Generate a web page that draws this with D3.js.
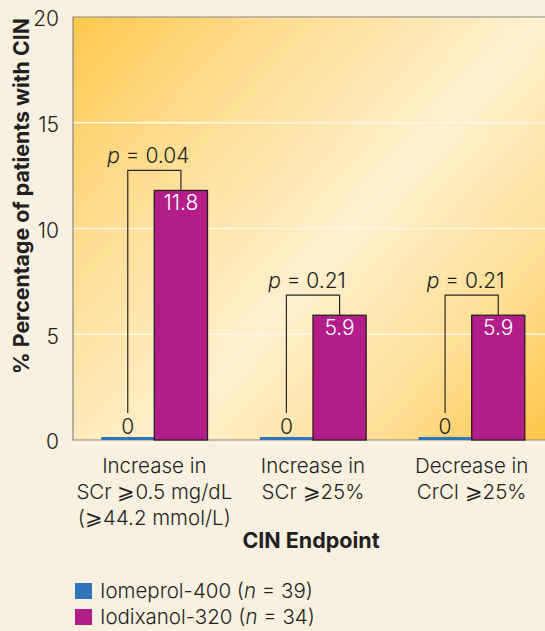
<!DOCTYPE html>
<html>
<head>
<meta charset="utf-8">
<script src="https://cdn.jsdelivr.net/npm/d3@7"></script>
<style>
  html, body { margin: 0; padding: 0; background: #f9f1e0; }
  svg { display: block; }
  text { font-family: Inter, "Liberation Sans", Arial, sans-serif; fill: #231f20; font-weight: 300; }
</style>
</head>
<body>
<svg id="chart" width="545" height="631"></svg>
<script>
// CIN incidence by endpoint, two contrast agents
const categories = [
  ["Increase in", "SCr \u2A7E0.5 mg/dL", "(\u2A7E44.2 mmol/L)"],
  ["Increase in", "SCr \u2A7E25%"],
  ["Decrease in", "CrCl \u2A7E25%"]
];
const seriesNames = ["Iomeprol-400", "Iodixanol-320"];
const seriesN = [39, 34];
const iomeprol = [0, 0, 0];
const iodixanol = [11.8, 5.9, 5.9];
const pValues = ["0.04", "0.21", "0.21"];
const yTicks = [0, 5, 10, 15, 20];

const colors = ["#2f74b8", "#b31d8a"];

const svg = d3.select("#chart");
const plot = { left: 73, top: 17, right: 545, bottom: 440 };

const x0 = d3.scaleBand()
  .domain(d3.range(categories.length))
  .range([75, 551])
  .paddingInner(0.33)
  .paddingOuter(0.165);
const x1 = d3.scaleBand()
  .domain(d3.range(seriesNames.length))
  .range([0, x0.bandwidth()]);
const y = d3.scaleLinear().domain([0, 20]).range([plot.bottom, plot.top]);

// plot background
const defs = svg.append("defs");
const grad = defs.append("linearGradient")
  .attr("id", "bg")
  .attr("gradientUnits", "userSpaceOnUse")
  .attr("x1", plot.left).attr("y1", plot.top)
  .attr("x2", plot.right).attr("y2", plot.bottom);
grad.append("stop").attr("offset", 0).attr("stop-color", "#ffc84c");
grad.append("stop").attr("offset", 0.22).attr("stop-color", "#ffdb8a");
grad.append("stop").attr("offset", 0.55).attr("stop-color", "#fff0cf");
grad.append("stop").attr("offset", 0.8).attr("stop-color", "#ffdf95");
grad.append("stop").attr("offset", 1).attr("stop-color", "#ffc646");

svg.append("rect")
  .attr("x", plot.left).attr("y", plot.top)
  .attr("width", plot.right - plot.left).attr("height", plot.bottom - plot.top)
  .attr("fill", "url(#bg)");

// gridlines
svg.append("g")
  .selectAll("line")
  .data(yTicks.filter(d => d > 0 && d < 20))
  .join("line")
  .attr("x1", plot.left).attr("x2", plot.right)
  .attr("y1", d => y(d)).attr("y2", d => y(d))
  .attr("stroke", "#fff6e4").attr("stroke-width", 1.3);

// frame
svg.append("path")
  .attr("d", `M${plot.right},${plot.top}H${plot.left}V${plot.bottom}H${plot.right}`)
  .attr("fill", "none").attr("stroke", "#8a8580").attr("stroke-width", 1.2);

// y axis labels
const yAxis = d3.axisLeft(y).tickValues(yTicks).tickSize(0).tickPadding(14);
const gy = svg.append("g").attr("transform", `translate(${plot.left},0)`).call(yAxis);
gy.select(".domain").remove();
gy.attr("font-family", null).attr("font-size", null);
gy.selectAll("text")
  .attr("font-size", 21)
  .style("fill", "#231f20")
  .attr("dy", "0.42em");

// y title
svg.append("text")
  .attr("transform", "translate(29,196) rotate(-90)")
  .attr("text-anchor", "middle")
  .attr("font-size", 21.3)
  .style("font-weight", 700)
  .text("% Percentage of patients with CIN");

// bars
const groups = svg.append("g").selectAll("g")
  .data(categories.map((c, i) => ({ i, values: [iomeprol[i], iodixanol[i]] })))
  .join("g")
  .attr("transform", d => `translate(${x0(d.i)},0)`);

groups.selectAll("rect")
  .data(d => d.values.map((v, s) => ({ v, s })))
  .join("rect")
  .attr("x", d => x1(d.s))
  .attr("width", x1.bandwidth())
  .attr("y", d => d.v > 0 ? y(d.v) : y(0) - 3)
  .attr("height", d => d.v > 0 ? y(0) - y(d.v) : 3)
  .attr("fill", d => colors[d.s])
  .attr("stroke", d => d.v > 0 ? "#2b2020" : "none")
  .attr("stroke-width", 1.3);

// value labels
groups.append("text")
  .attr("x", x1(0) + x1.bandwidth() / 2)
  .attr("y", d => y(d.values[0]) - 6)
  .attr("text-anchor", "middle")
  .attr("font-size", 21)
  .text(d => d.values[0]);
groups.append("text")
  .attr("x", x1(1) + x1.bandwidth() / 2)
  .attr("y", d => y(d.values[1]) + 20)
  .attr("text-anchor", "middle")
  .attr("font-size", 21)
  .style("fill", "#ffffff")
  .text(d => d.values[1]);

// significance brackets
groups.each(function (d) {
  const g = d3.select(this);
  const xa = x1(0) + x1.bandwidth() / 2;
  const xb = x1(1) + x1.bandwidth() / 2;
  const top = y(Math.max(d.values[0], d.values[1])) - 20;
  g.append("path")
    .attr("d", `M${xa},${y(0) - 27}V${top}H${xb}V${y(d.values[1])}`)
    .attr("fill", "none").attr("stroke", "#2b2626").attr("stroke-width", 1.2);
  const t = g.append("text")
    .attr("x", (xa + xb) / 2 - 6)
    .attr("y", top - 7)
    .attr("text-anchor", "middle")
    .attr("font-size", 21);
  t.append("tspan").style("font-style", "italic").text("p");
  t.append("tspan").text(" = " + pValues[d.i]);
});

// category labels
const xl = svg.append("g");
categories.forEach((lines, i) => {
  const t = xl.append("text")
    .attr("x", x0(i) + x0.bandwidth() / 2)
    .attr("y", 473)
    .attr("text-anchor", "middle")
    .attr("font-size", 20.5);
  lines.forEach((ln, k) => {
    t.append("tspan")
      .attr("x", x0(i) + x0.bandwidth() / 2)
      .attr("dy", k === 0 ? 0 : 26)
      .text(ln);
  });
});

// x title
svg.append("text")
  .attr("x", 311).attr("y", 548)
  .attr("text-anchor", "middle")
  .attr("font-size", 21.5)
  .style("font-weight", 700)
  .text("CIN Endpoint");

// legend
const legend = svg.append("g").selectAll("g")
  .data(seriesNames.map((name, s) => ({ name, s })))
  .join("g")
  .attr("transform", d => `translate(75,${583 + d.s * 26})`);
legend.append("rect")
  .attr("width", 17).attr("height", 16)
  .attr("fill", d => colors[d.s]);
const lt = legend.append("text")
  .attr("x", 25).attr("y", 15)
  .attr("font-size", 20.5);
lt.append("tspan").text(d => d.name + " (");
lt.append("tspan").style("font-style", "italic").text("n");
lt.append("tspan").text(d => " = " + seriesN[d.s] + ")");
</script>
</body>
</html>
